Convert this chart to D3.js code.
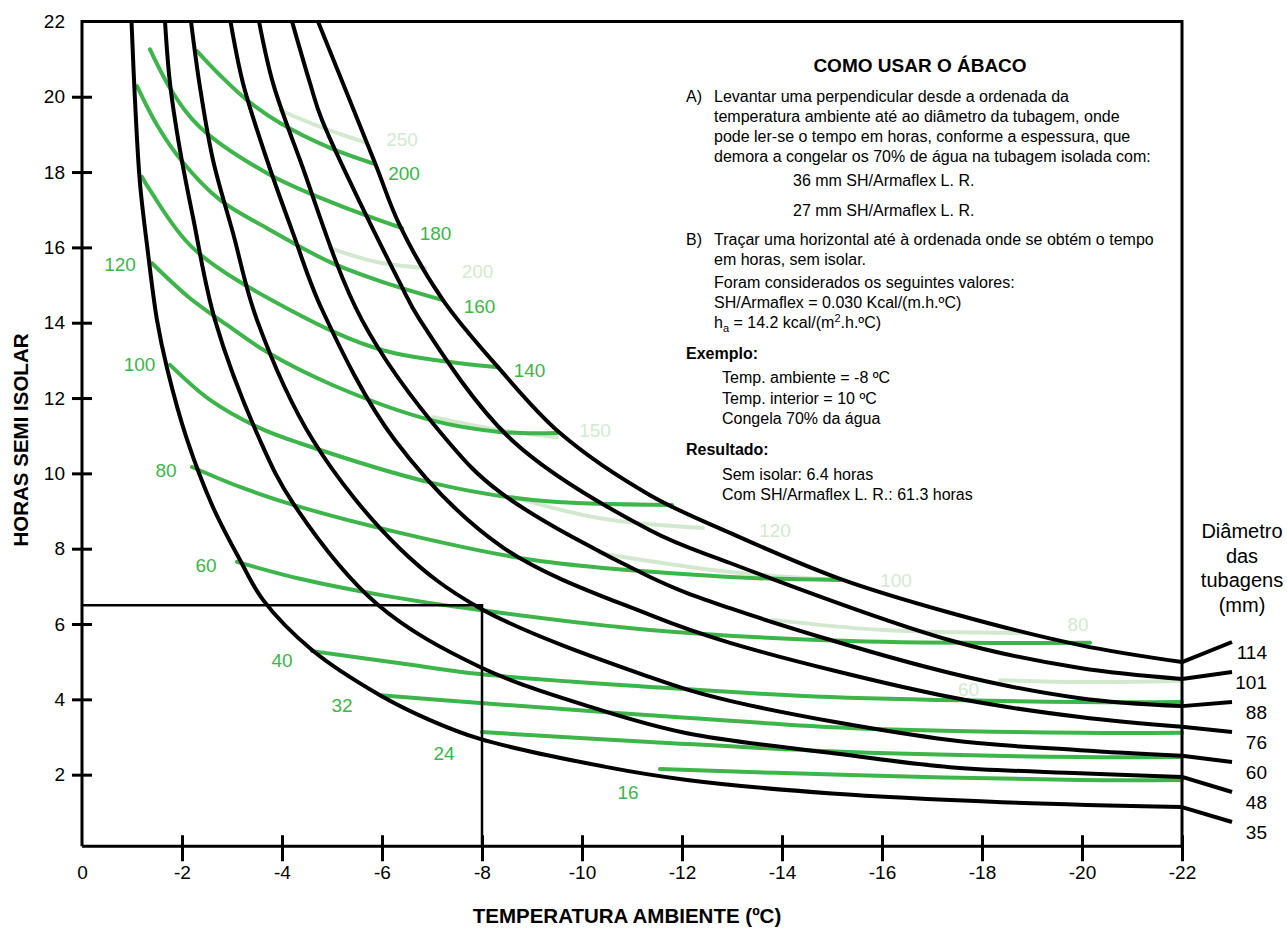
<!DOCTYPE html>
<html>
<head>
<meta charset="utf-8">
<script src="https://cdn.jsdelivr.net/npm/d3@7"></script>
<style>
  body { margin: 0; background: #fff; }
  svg text { font-family: "Liberation Sans", Arial, Helvetica, sans-serif; }
</style>
</head>
<body>
<svg id="chart" width="1287" height="928"></svg>
<script>
// axis ticks
var xTicks = [0, -2, -4, -6, -8, -10, -12, -14, -16, -18, -20, -22];
var yTicks = [2, 4, 6, 8, 10, 12, 14, 16, 18, 20, 22];

// pipe diameter curves (ambient temp ºC, hours without insulation)
var tube35 = [[-0.99,22],[-1.06,19.9],[-1.16,17.7],[-1.32,15.85],[-1.5,14.07],[-1.7,12.8],[-2.1,10.9],[-2.62,9.1],[-3.16,7.7],[-3.62,6.64],[-4.6,5.31],[-5.96,4.11],[-6.96,3.45],[-7.96,2.95],[-10.5,2.2],[-12.1,1.86],[-15,1.5],[-18.4,1.27],[-22,1.14]];
var tube48 = [[-1.66,22],[-1.76,20.36],[-1.96,18.58],[-2.22,16.8],[-2.66,14.07],[-3.56,10.88],[-4.22,9.21],[-5.9,6.53],[-7.96,4.86],[-10.36,3.72],[-12.1,3.1],[-14.96,2.58],[-17.36,2.2],[-19.96,2.04],[-22,1.94]];
var tube60 = [[-2.18,22],[-2.36,20.25],[-2.62,18.32],[-3.02,16.38],[-3.5,14.07],[-4.62,10.88],[-6.36,8.0],[-7.96,6.42],[-11.36,4.59],[-12.96,3.96],[-17.36,2.92],[-19.96,2.65],[-22,2.5]];
var tube76 = [[-2.97,22],[-3.22,20.36],[-3.7,18.32],[-4.22,16.38],[-4.8,14.35],[-6.26,10.88],[-8.4,8.05],[-11.36,6.24],[-12.96,5.5],[-17.36,4.06],[-19.96,3.53],[-22,3.27]];
var tube88 = [[-3.54,22],[-3.82,20.36],[-4.36,18.32],[-5.6,14.07],[-7.3,10.88],[-8.36,9.5],[-11.36,7.25],[-12.96,6.42],[-17.36,4.7],[-19.96,4.03],[-22,3.82]];
var tube101 = [[-4.2,22],[-4.56,20.36],[-4.8,19.38],[-6.36,15.05],[-6.76,14.07],[-8.6,10.88],[-11.36,8.49],[-12.96,7.62],[-17.36,5.57],[-19.96,4.83],[-22,4.54]];
var tube114 = [[-4.72,22],[-5.86,18.24],[-6.36,16.57],[-7.22,14.6],[-8.32,12.82],[-9.56,11.07],[-11.36,9.42],[-12.96,8.42],[-15.12,7.22],[-17.36,6.3],[-19.96,5.44],[-22,4.99]];
var tubeNames = ["114", "101", "88", "76", "60", "48", "35"];
var tubes = [tube114, tube101, tube88, tube76, tube60, tube48, tube35];

// hours with 36 mm SH/Armaflex L. R. (dark green)
var ins36_200 = [[-2.3,21.21],[-2.76,20.57],[-3.3,19.91],[-3.96,19.3],[-4.96,18.64],[-5.86,18.21]];
var ins36_180 = [[-1.36,21.26],[-1.82,20.1],[-2.36,19.19],[-3.7,17.97],[-5.02,17.18],[-6.4,16.51]];
var ins36_160 = [[-1.1,20.28],[-1.5,19.25],[-1.98,18.32],[-2.76,17.26],[-3.7,16.51],[-4.96,15.61],[-6.02,15.08],[-7.22,14.6]];
var ins36_140 = [[-1.2,17.87],[-1.36,17.52],[-2.22,15.98],[-4.16,14.34],[-6.02,13.27],[-8.32,12.82]];
var ins36_120 = [[-1.4,15.58],[-2.16,14.65],[-2.9,13.94],[-3.7,13.22],[-5.02,12.34],[-6.96,11.42],[-8.36,11.1],[-9.5,11.07]];
var ins36_100 = [[-1.76,12.88],[-2.56,11.95],[-3.56,11.2],[-4.36,10.8],[-7.02,9.74],[-9.02,9.29],[-11.8,9.16]];
var ins36_80 = [[-2.2,10.17],[-3.16,9.64],[-4.36,9.11],[-6.36,8.42],[-9.02,7.7],[-12.96,7.25],[-15.16,7.17]];
var ins36_60 = [[-3.1,7.65],[-4.36,7.2],[-6.02,6.76],[-7.96,6.37],[-11.36,5.84],[-15.36,5.55],[-20.16,5.5]];
var ins36_40 = [[-4.6,5.28],[-6.36,4.96],[-7.96,4.67],[-11.36,4.33],[-14.96,4.06],[-19.96,3.93],[-22,3.93]];
var ins36_32 = [[-5.96,4.11],[-7.96,3.9],[-11.36,3.58],[-15.36,3.24],[-19.96,3.11],[-22,3.11]];
var ins36_24 = [[-8,3.13],[-11.36,2.87],[-15.36,2.6],[-19.96,2.47],[-22,2.47]];
var ins36_16 = [[-11.56,2.15],[-15.36,1.99],[-19.96,1.86],[-22,1.86]];
var darkCurves = [ins36_200, ins36_180, ins36_160, ins36_140, ins36_120, ins36_100, ins36_80, ins36_60, ins36_40, ins36_32, ins36_24, ins36_16];
var darkLabels = ["200","180","160","140","120","100","80","60","40","32","24","16"];
var darkLabelAt = [[-6.44,17.79],[-7.07,16.19],[-7.95,14.26],[-8.95,12.56],[-0.76,15.37],[-1.15,12.72],[-1.68,9.9],[-2.48,7.38],[-4.0,4.86],[-5.2,3.66],[-7.24,2.39],[-10.92,1.35]];

// hours with 27 mm SH/Armaflex L. R. (light green)
var ins27_250 = [[-3.96,19.64],[-4.82,19.17],[-5.7,18.77]];
var ins27_200 = [[-4.96,15.98],[-5.9,15.61],[-6.86,15.45]];
var ins27_150 = [[-7.02,11.49],[-8.36,11.15],[-9.5,10.96]];
var ins27_120 = [[-8.62,9.37],[-10.36,8.81],[-12.42,8.55]];
var ins27_100 = [[-10.36,7.88],[-12.96,7.38],[-15.16,7.17]];
var ins27_80 = [[-13.82,6.11],[-16.02,5.84],[-18.9,5.76]];
var ins27_60 = [[-18.36,4.51],[-19.96,4.46],[-21.96,4.49]];
var lightCurves = [ins27_250, ins27_200, ins27_150, ins27_120, ins27_100, ins27_80, ins27_60];
var lightLabels = ["250","200","150","120","100","80","60"];
var lightLabelAt = [[-6.4,18.69],[-7.91,15.18],[-10.26,10.96],[-13.86,8.31],[-16.28,6.98],[-19.92,5.81],[-17.73,4.09]];

// worked example
var exampleTemp = -8;
var exampleHours = 6.5;

var DARK = "#3db54a", LIGHT = "#d3e9cf";
var svg = d3.select("#chart");

var x = d3.scaleLinear().domain([0, -22]).range([82, 1182]);
var y = d3.scaleLinear().domain([0, 22]).range([850, 21.4]);
var axisLevel = 0.1; // the x axis sits a hair above zero

var line = d3.line()
    .x(function(d) { return x(d[0]); })
    .y(function(d) { return y(d[1]); })
    .curve(d3.curveCatmullRom.alpha(0.5));

// light green first, dark green over it, black on top
svg.append("g").selectAll("path")
    .data(lightCurves)
  .enter().append("path")
    .attr("d", line)
    .attr("fill", "none")
    .attr("stroke", LIGHT)
    .attr("stroke-width", 4)
    .attr("stroke-linecap", "round");

svg.append("g").selectAll("path")
    .data(darkCurves)
  .enter().append("path")
    .attr("d", line)
    .attr("fill", "none")
    .attr("stroke", DARK)
    .attr("stroke-width", 4)
    .attr("stroke-linecap", "round");

// example lines
svg.append("path")
    .attr("d", "M" + x(0) + "," + y(exampleHours) + "H" + x(exampleTemp) + "V" + y(axisLevel))
    .attr("fill", "none")
    .attr("stroke", "#000")
    .attr("stroke-width", 2.5);

svg.append("g").selectAll("path")
    .data(tubes)
  .enter().append("path")
    .attr("d", line)
    .attr("fill", "none")
    .attr("stroke", "#000")
    .attr("stroke-width", 4);

// leader lines + diameter labels on the right
var legendTop = 652, legendStep = 30;
tubes.forEach(function(t, i) {
    var end = t[t.length - 1];
    var cy = legendTop + i * legendStep;
    svg.append("line")
        .attr("x1", x(end[0])).attr("y1", y(end[1]))
        .attr("x2", x(-22) + 50).attr("y2", cy - 10)
        .attr("stroke", "#000").attr("stroke-width", 4);
    svg.append("text")
        .attr("x", x(-22) + 85).attr("y", cy + 7)
        .attr("text-anchor", "end")
        .attr("font-size", 19)
        .text(tubeNames[i]);
});

// curve labels
svg.append("g").selectAll("text")
    .data(lightLabels)
  .enter().append("text")
    .attr("x", function(d, i) { return x(lightLabelAt[i][0]); })
    .attr("y", function(d, i) { return y(lightLabelAt[i][1]); })
    .attr("text-anchor", "middle")
    .attr("font-size", 19)
    .attr("fill", LIGHT)
    .text(function(d) { return d; });

svg.append("g").selectAll("text")
    .data(darkLabels)
  .enter().append("text")
    .attr("x", function(d, i) { return x(darkLabelAt[i][0]); })
    .attr("y", function(d, i) { return y(darkLabelAt[i][1]); })
    .attr("text-anchor", "middle")
    .attr("font-size", 19)
    .attr("fill", DARK)
    .text(function(d) { return d; });

// frame
svg.append("path")
    .attr("d", "M" + x(0) + "," + y(axisLevel) + "V" + y(22) + "H" + x(-22) + "V" + y(axisLevel) + "H" + x(0))
    .attr("fill", "none")
    .attr("stroke", "#000")
    .attr("stroke-width", 3);

// y axis
svg.append("g")
    .attr("transform", "translate(" + x(0) + ",0)")
    .call(d3.axisLeft(y).tickValues(yTicks).tickSizeInner(10).tickSizeOuter(0).tickPadding(7)
        .tickFormat(function(d) { return String(d); }))
    .attr("font-size", 19)
    .attr("font-family", null)
    .call(function(g) { g.select(".domain").remove(); })
    .call(function(g) { g.selectAll(".tick line").attr("x1", 10).attr("stroke-width", 3); })
    .call(function(g) { g.selectAll(".tick").filter(function(d) { return d === 22; }).select("line").remove(); });

// x axis
svg.append("g")
    .attr("transform", "translate(0," + y(axisLevel) + ")")
    .call(d3.axisBottom(x).tickValues(xTicks).tickSizeInner(15).tickSizeOuter(0).tickPadding(4)
        .tickFormat(function(d) { return String(d); }))
    .attr("font-size", 19)
    .attr("font-family", null)
    .call(function(g) { g.select(".domain").remove(); })
    .call(function(g) { g.selectAll(".tick line").attr("y1", -11).attr("stroke-width", 3); })
    .call(function(g) { g.selectAll(".tick").filter(function(d) { return d === 0; }).select("line").remove(); });

// axis titles
svg.append("text")
    .attr("x", 627).attr("y", 923)
    .attr("text-anchor", "middle")
    .attr("font-size", 20.5).attr("font-weight", "bold")
    .text("TEMPERATURA AMBIENTE (ºC)");

svg.append("text")
    .attr("transform", "translate(28,440) rotate(-90)")
    .attr("text-anchor", "middle")
    .attr("font-size", 20.5).attr("font-weight", "bold")
    .text("HORAS SEMI ISOLAR");

// right-side legend title
var legendTitle = ["Diâmetro", "das", "tubagens", "(mm)"];
svg.append("g").selectAll("text")
    .data(legendTitle)
  .enter().append("text")
    .attr("x", 1242)
    .attr("y", function(d, i) { return 538 + i * 24.5; })
    .attr("text-anchor", "middle")
    .attr("font-size", 20)
    .text(function(d) { return d; });

// instructions box
svg.append("text")
    .attr("x", 920).attr("y", 72)
    .attr("text-anchor", "middle")
    .attr("font-size", 19).attr("font-weight", "bold")
    .text("COMO USAR O ÁBACO");

var notes = [
    [686, 102, "A)", false],
    [714, 102, "Levantar uma perpendicular desde a ordenada da", false],
    [714, 122, "temperatura ambiente até ao diâmetro da tubagem, onde", false],
    [714, 142, "pode ler-se o tempo em horas, conforme a espessura, que", false],
    [714, 162, "demora a congelar os 70% de água na tubagem isolada com:", false],
    [793, 186, "36 mm SH/Armaflex L. R.", false],
    [793, 216, "27 mm SH/Armaflex L. R.", false],
    [686, 245, "B)", false],
    [714, 245, "Traçar uma horizontal até à ordenada onde se obtém o tempo", false],
    [714, 265, "em horas, sem isolar.", false],
    [714, 288, "Foram considerados os seguintes valores:", false],
    [714, 308, "SH/Armaflex = 0.030 Kcal/(m.h.ºC)", false],
    [686, 359, "Exemplo:", true],
    [722, 383, "Temp. ambiente = -8 ºC", false],
    [722, 404, "Temp. interior = 10 ºC", false],
    [722, 424, "Congela 70% da água", false],
    [686, 455, "Resultado:", true],
    [722, 480, "Sem isolar: 6.4 horas", false],
    [722, 500, "Com SH/Armaflex L. R.: 61.3 horas", false]
];
svg.append("g").selectAll("text")
    .data(notes)
  .enter().append("text")
    .attr("x", function(d) { return d[0]; })
    .attr("y", function(d) { return d[1]; })
    .attr("font-size", 16)
    .attr("font-weight", function(d) { return d[3] ? "bold" : "normal"; })
    .text(function(d) { return d[2]; });

// h_a line with sub/superscript
var ha = svg.append("text").attr("x", 714).attr("y", 328).attr("font-size", 16);
ha.append("tspan").text("h");
ha.append("tspan").attr("font-size", 11).attr("dy", 4).text("a");
ha.append("tspan").attr("dy", -4).text(" = 14.2 kcal/(m");
ha.append("tspan").attr("font-size", 11).attr("dy", -6).text("2");
ha.append("tspan").attr("dy", 6).text(".h.ºC)");
</script>
</body>
</html>
